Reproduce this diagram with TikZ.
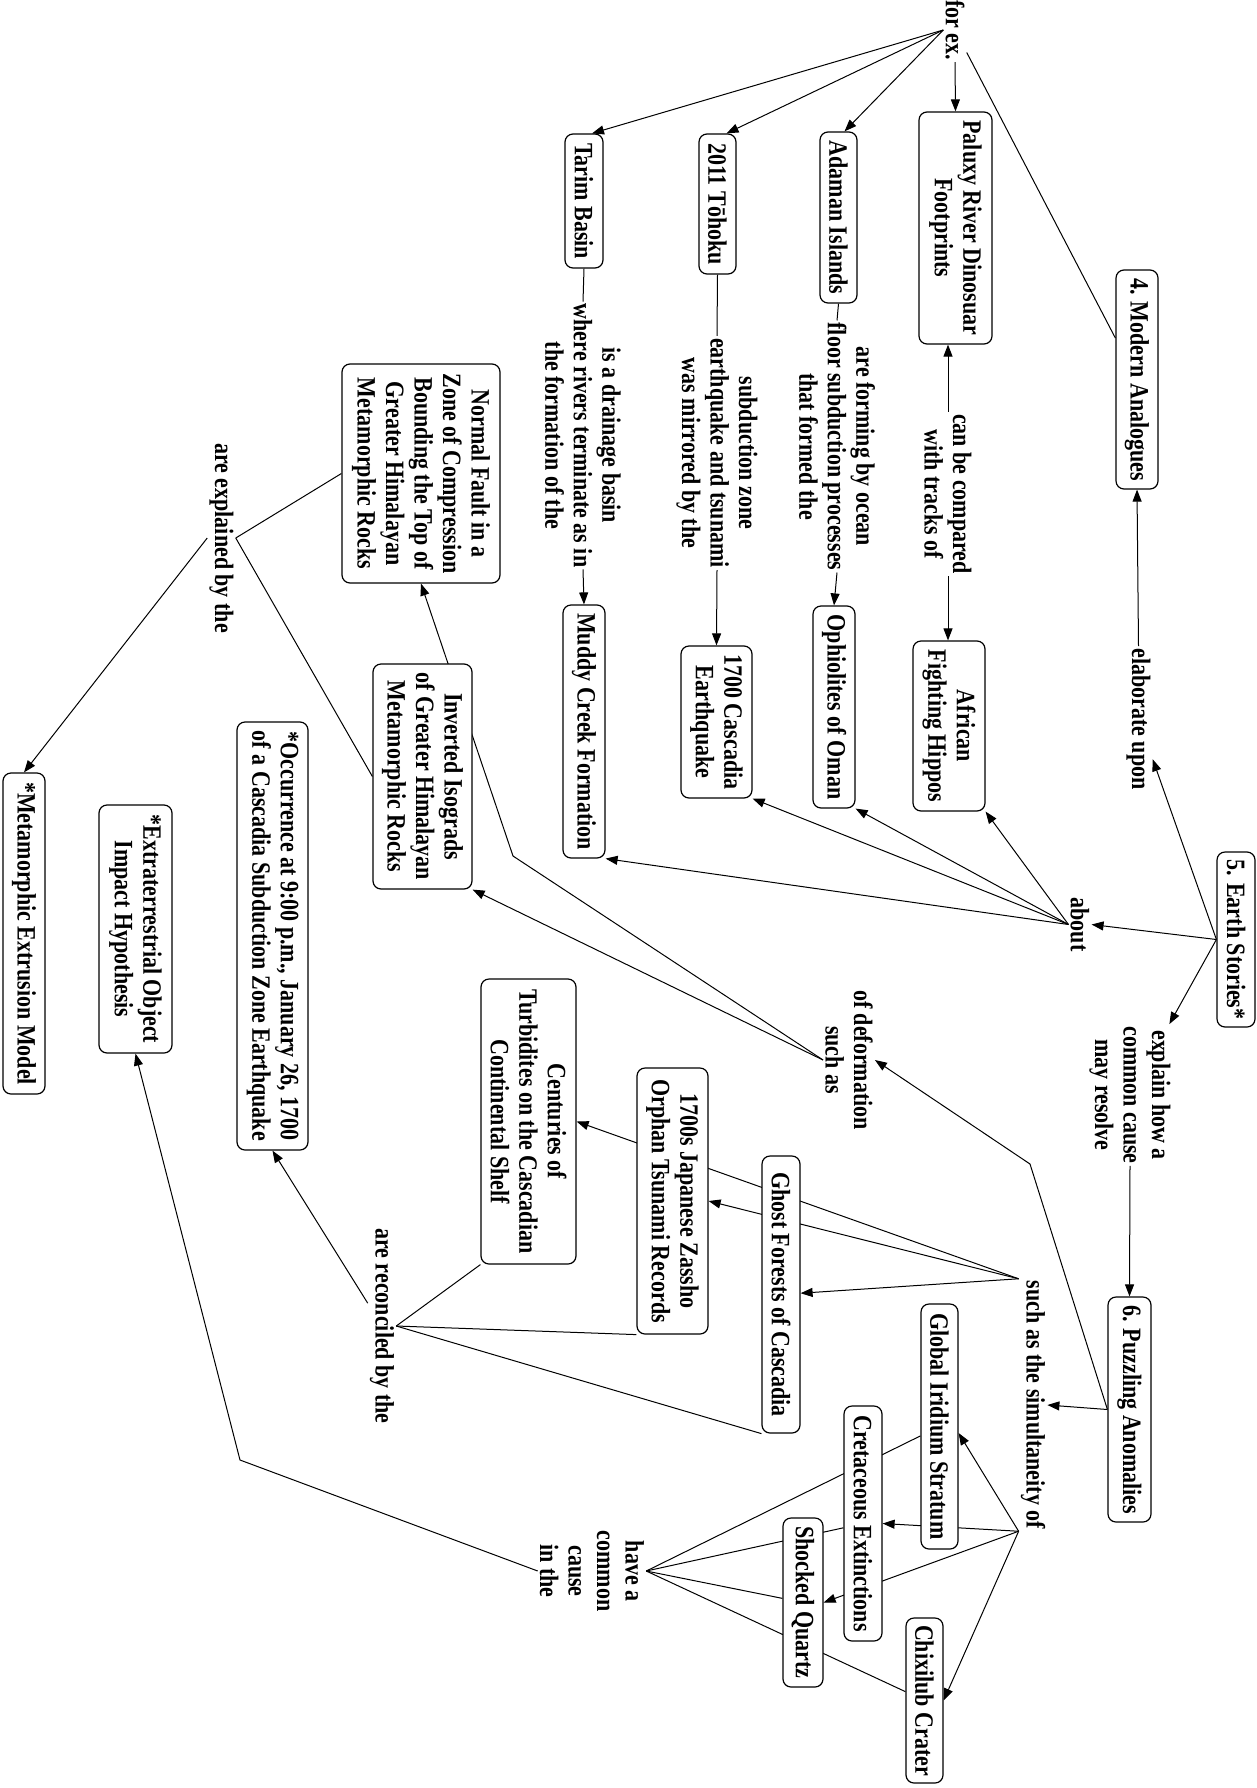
\documentclass[tikz,border=0pt]{standalone}
\usepackage{fontspec}
\setmainfont{Liberation Serif}[FakeStretch=0.83]
\usetikzlibrary{arrows.meta,calc}
\pgfdeclarelayer{bg}
\pgfsetlayers{bg,main}
\begin{document}
\begin{tikzpicture}[x=1pt,y=1pt,
  every node/.style={font=\fontsize{26.5}{28.5}\selectfont\bfseries},
  box/.style={draw,line width=1.2pt,rounded corners=8pt,fill=white,rotate=-90,align=center,inner sep=3pt},
  sz/.style 2 args={minimum height=#1pt,minimum width=#2pt},
  lbl/.style={rotate=-90,align=center,inner sep=2pt},
  con/.style={line width=1pt},
  arr/.style={line width=1pt,-{Triangle[length=12pt,width=9pt]}}]
\useasboundingbox (0,0) rectangle (1256,-1788);

% concept boxes
\node[box,sz={38}{134}] (tarim) at (584,-201) {Tarim Basin};
\node[box,sz={37}{140}] (tohoku) at (717.5,-204) {2011 Tōhoku};
\node[box,sz={37}{171}] (adaman) at (838.5,-217.5) {Adaman Islands};
\node[box,sz={73}{232}] (paluxy) at (955.5,-228) {Paluxy River Dinosuar\\Footprints};
\node[box,sz={42}{219}] (modern) at (1137,-379.5) {4. Modern Analogues};
\node[box,sz={158}{219}] (normal) at (421,-473.5) {Normal Fault in a\\Zone of Compression\\Bounding the Top of\\Greater Himalayan\\Metamorphic Rocks};
\node[box,sz={42}{253}] (muddy) at (584,-731.5) {Muddy Creek Formation};
\node[box,sz={71}{152}] (cascadia) at (716.5,-722) {1700 Cascadia\\Earthquake};
\node[box,sz={42}{202}] (ophiolites) at (834,-707) {Ophiolites of Oman};
\node[box,sz={72}{170}] (african) at (949,-726) {African\\Fighting Hippos};
\node[box,sz={38}{175}] (earth) at (1236,-939.5) {5. Earth Stories*};
\node[box,sz={99}{225}] (inverted) at (422.5,-776.5) {Inverted Isograds\\of Greater Himalayan\\Metamorphic Rocks};
\node[box,sz={71}{428}] (occurrence) at (272.5,-936) {*Occurrence at 9:00 p.m., January 26, 1700\\of a Cascadia Subduction Zone Earthquake};
\node[box,sz={73}{248}] (extra) at (135.5,-929) {*Extraterrestrial Object\\Impact Hypothesis};
\node[box,sz={42}{321}] (metamorphic) at (24,-933.5) {*Metamorphic Extrusion Model};
\node[box,sz={95}{285}] (centuries) at (528.5,-1121.5) {Centuries of\\Turbidites on the Cascadian\\Continental Shelf};
\node[box,sz={71}{266}] (japanese) at (672.5,-1201) {1700s Japanese Zassho\\Orphan Tsunami Records};
\node[box,sz={38}{277}] (ghost) at (781,-1294.5) {Ghost Forests of Cascadia};
\node[box,sz={43}{225}] (puzzling) at (1129.5,-1409.5) {6. Puzzling Anomalies};
\node[box,sz={37}{245}] (iridium) at (939.5,-1426.5) {Global Iridium Stratum};
\node[box,sz={38}{235}] (cretaceous) at (863,-1523.5) {Cretaceous Extinctions};
\node[box,sz={40}{169}] (shocked) at (803,-1602.5) {Shocked Quartz};
\node[box,sz={37}{165}] (chixilub) at (924.5,-1700.5) {Chixilub Crater};

% linking phrases
\node[lbl] (forex) at (955,-30) {for ex.};
\node[lbl] (canbe) at (948,-494) {can be compared\\with tracks of};
\node[lbl] (elaborate) at (1138.5,-719) {elaborate upon};
\node[lbl] (forming) at (837,-446.5) {are forming by ocean\\floor subduction processes\\that formed the};
\node[lbl] (subduction) at (717,-453) {subduction zone\\earthquake and tsunami\\was mirrored by the};
\node[lbl] (drainage) at (583,-435.5) {is a drainage basin\\where rivers terminate as in\\the formation of the};
\node[lbl] (about) at (1080,-924.5) {about};
\node[lbl] (explain) at (1130,-1095) {explain how a\\common cause\\may resolve};
\node[lbl] (deformation) at (849,-1060) {of deformation\\such as};
\node[lbl] (simult) at (1033,-1405) {such as the simultaneity of};
\node[lbl] (havea) at (592,-1571) {have a\\common\\cause\\in the};
\node[lbl] (reconciled) at (382,-1326) {are reconciled by the};
\node[lbl] (explained) at (221.5,-538) {are explained by the};

\coordinate (b1) at (1030,-1164);
\coordinate (b2) at (513,-856);
\coordinate (b3) at (240,-1460);

\begin{pgfonlayer}{bg}
% Modern analogues branch
\draw[con] (modern) -- (forex);
\draw[arr] (forex.south) -- ($(tarim.west)+(8,0)$);
\draw[arr] (forex.south) -- ($(tohoku.west)+(9,0)$);
\draw[arr] (forex.south) -- ($(adaman.west)+(6,0)$);
\draw[arr] (forex.east) -- (paluxy.west);
\draw[arr] (canbe.west) -- (canbe.west |- paluxy.east);
\draw[arr] (canbe.east) -- (canbe.east |- african.west);
\draw[arr] (elaborate.west) -- (modern.east);
\draw[con] (adaman.east) -- (forming.west);
\draw[arr] (forming.east) -- (ophiolites.west);
\draw[con] (tohoku.east) -- (subduction.west);
\draw[arr] (subduction.east) -- (cascadia.west);
\draw[con] (tarim.east) -- (drainage.west);
\draw[arr] (drainage.east) -- (muddy.west);
% Earth stories
\draw[arr] (earth.south) -- (elaborate);
\draw[arr] (earth.south) -- (about.north);
\draw[arr] (earth.south) -- (explain);
\draw[arr] (about.south) -- (african.north east);
\draw[arr] (about.south) -- (ophiolites.north east);
\draw[arr] (about.south) -- (cascadia.north east);
\draw[arr] (about.south) -- (muddy.north east);
\draw[arr] (explain.east) -- (puzzling.west);
% Puzzling anomalies
\draw[arr] (puzzling.south) -- (simult.north);
\draw[arr] (puzzling.south) -- (b1) -- (deformation.north);
\draw[arr] (deformation.south) -- (inverted.north east);
\draw[arr] (deformation.south) -- (b2) -- (normal.east);
\draw[con] (normal.south) -- (explained.north);
\draw[con] (inverted.south) -- (explained.north);
\draw[arr] (explained.south) -- (metamorphic.west);
\draw[arr] (simult.south west) -- (ghost);
\draw[arr] (simult.south west) -- (japanese.north);
\draw[arr] (simult.south west) -- (centuries.north);
\draw[arr] (simult.south east) -- ($(iridium.north)+(0,-6.5)$);
\draw[arr] (simult.south east) -- (cretaceous.north);
\draw[arr] (simult.south east) -- (shocked.north);
\draw[arr] (simult.south east) -- (chixilub.north);
\draw[con] (iridium) -- (havea.north);
\draw[con] (cretaceous) -- (havea.north);
\draw[con] (shocked) -- (havea.north);
\draw[con] (chixilub) -- (havea.north);
\draw[arr] (havea.south) -- (b3) -- (extra.east);
\draw[con] (centuries.south east) -- (reconciled.north);
\draw[con] (japanese.south east) -- (reconciled.north);
\draw[con] (ghost.south east) -- (reconciled.north);
\draw[arr] (reconciled) -- (occurrence.east);
\end{pgfonlayer}
\end{tikzpicture}
\end{document}
